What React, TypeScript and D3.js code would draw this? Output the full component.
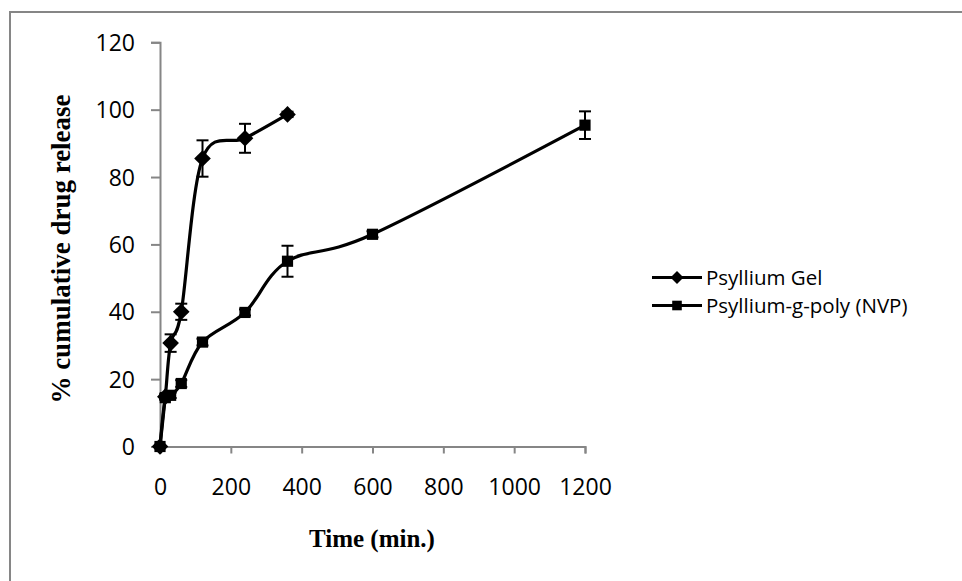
import React, { useEffect, useRef } from "react";
import * as d3 from "d3";

// release data
const gelTime = [0, 15, 30, 60, 120, 240, 360];
const gelRelease = [0, 14.8, 30.7, 40, 85.5, 91.5, 98.6];
const gelError = [0, 0.8, 2.6, 2.4, 5.4, 4.3, 0.8];

const nvpTime = [0, 15, 30, 60, 120, 240, 360, 600, 1200];
const nvpRelease = [0, 14.5, 15.2, 18.7, 31, 39.8, 55, 63, 95.4];
const nvpError = [0, 0.6, 0.8, 1, 1, 0.9, 4.6, 0.9, 4.1];

const xTicks = [0, 200, 400, 600, 800, 1000, 1200];
const yTicks = [0, 20, 40, 60, 80, 100, 120];

const seriesNames = ["Psyllium Gel", "Psyllium-g-poly (NVP)"];

const W = 962;
const H = 581;
const axisColor = "#868686";
const sansFont = "'Open Sans', 'Noto Sans', sans-serif";
const serifFont = "'Liberation Serif', 'Times New Roman', serif";

const App = () => {
  const ref = useRef<SVGSVGElement>(null);

  useEffect(() => {
    const svg = d3.select(ref.current);
    svg.selectAll("*").remove();

    const x = d3.scaleLinear().domain([0, 1200]).range([160, 585]);
    const y = d3.scaleLinear().domain([0, 120]).range([446.5, 42.3]);

    // outer chart frame (runs off the right and bottom edge)
    svg.append("rect")
      .attr("x", 10).attr("y", 12)
      .attr("width", W).attr("height", H)
      .attr("fill", "white")
      .attr("stroke", axisColor).attr("stroke-width", 2);

    // y axis
    const yAxis = d3.axisLeft(y).tickValues(yTicks).tickSize(9).tickPadding(16);
    const gy = svg.append("g").attr("transform", `translate(${x(0)},0)`).call(yAxis);
    // x axis
    const xAxis = d3.axisBottom(x).tickValues(xTicks).tickFormat(d3.format("d")).tickSize(7).tickPadding(25);
    const gx = svg.append("g").attr("transform", `translate(0,${y(0)})`).call(xAxis);

    [gx, gy].forEach(g => {
      g.attr("font-size", null);
      g.select(".domain").attr("stroke", axisColor).attr("stroke-width", 2);
      g.selectAll(".tick line").attr("stroke", axisColor).attr("stroke-width", 2);
      g.selectAll(".tick text")
        .attr("fill", "#000")
        .style("font-family", sansFont)
        .style("font-size", "23px");
    });
    gy.selectAll(".tick text").attr("dy", "0.35em");

    // axis titles
    svg.append("text")
      .attr("transform", `translate(70,249) rotate(-90)`)
      .attr("text-anchor", "middle")
      .style("font-family", serifFont)
      .style("font-weight", "bold")
      .style("font-size", "27px")
      .text("% cumulative drug release");

    svg.append("text")
      .attr("x", 372).attr("y", 547)
      .attr("text-anchor", "middle")
      .style("font-family", serifFont)
      .style("font-weight", "bold")
      .style("font-size", "25px")
      .text("Time (min.)");

    const line = d3.line<[number, number]>()
      .x(d => x(d[0]))
      .y(d => y(d[1]))
      .curve(d3.curveCatmullRom.alpha(0));

    const series = [
      { t: gelTime, v: gelRelease, e: gelError, shape: "diamond" },
      { t: nvpTime, v: nvpRelease, e: nvpError, shape: "square" },
    ];

    const diamond = (s: number) => `M0,${-s}L${s},0L0,${s}L${-s},0Z`;
    const square = (s: number) => `M${-s},${-s}H${s}V${s}H${-s}Z`;

    // draw NVP first so the gel curve sits on top, as in the picture
    [...series].reverse().forEach(s => {
      const pts = s.t.map((t, i) => [t, s.v[i]] as [number, number]);
      const g = svg.append("g");
      g.append("path")
        .attr("d", line(pts))
        .attr("fill", "none")
        .attr("stroke", "#000")
        .attr("stroke-width", 3.2);

      // error bars
      const eb = g.selectAll(".eb").data(pts.map((p, i) => ({ p, e: s.e[i] })).filter(d => d.e > 0))
        .join("g").attr("class", "eb");
      eb.append("line")
        .attr("x1", d => x(d.p[0])).attr("x2", d => x(d.p[0]))
        .attr("y1", d => y(d.p[1] - d.e)).attr("y2", d => y(d.p[1] + d.e))
        .attr("stroke", "#000").attr("stroke-width", 2);
      [1, -1].forEach(sign => {
        eb.append("line")
          .attr("x1", d => x(d.p[0]) - 6).attr("x2", d => x(d.p[0]) + 6)
          .attr("y1", d => y(d.p[1] + sign * d.e)).attr("y2", d => y(d.p[1] + sign * d.e))
          .attr("stroke", "#000").attr("stroke-width", 2);
      });

      g.selectAll(".mk").data(pts).join("path")
        .attr("class", "mk")
        .attr("transform", d => `translate(${x(d[0])},${y(d[1])})`)
        .attr("d", s.shape === "diamond" ? diamond(8.3) : square(5.6))
        .attr("fill", "#000");
    });

    // legend
    const legend = svg.append("g");
    seriesNames.forEach((name, i) => {
      const ly = 277.5 + i * 28;
      legend.append("line")
        .attr("x1", 652).attr("x2", 702)
        .attr("y1", ly).attr("y2", ly)
        .attr("stroke", "#000").attr("stroke-width", 3.2);
      legend.append("path")
        .attr("transform", `translate(677,${ly})`)
        .attr("d", i === 0 ? diamond(6.5) : square(4.8))
        .attr("fill", "#000");
      legend.append("text")
        .attr("x", 706).attr("y", ly)
        .attr("dy", "0.35em")
        .style("font-family", sansFont)
        .style("font-size", "20.5px")
        .text(name);
    });
  }, []);

  return (
    <svg
      ref={ref}
      width={W}
      height={H}
      style={{ position: "absolute", left: 0, top: 0, background: "white" }}
    />
  );
};

export default App;
